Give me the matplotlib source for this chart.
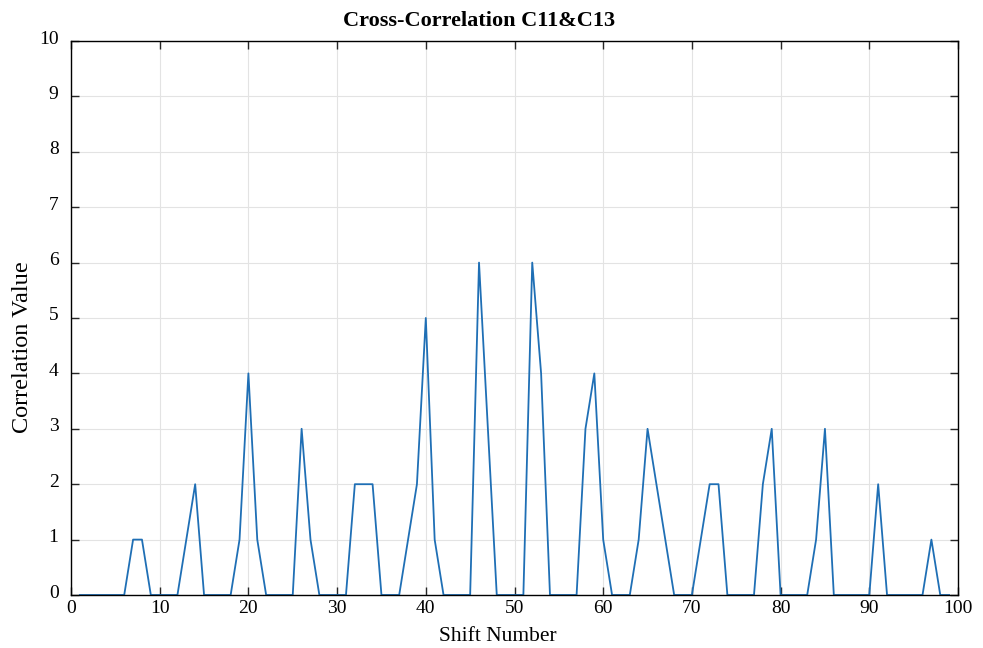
import numpy as np
import matplotlib
matplotlib.use("Agg")
import matplotlib.pyplot as plt
import matplotlib.transforms as mtransforms

plt.rcParams['font.family'] = ['Liberation Serif', 'DejaVu Serif']

# shift numbers 1..99 and correlation values
shift = list(range(1, 100))
corr = [0, 0, 0, 0, 0, 0, 1, 1, 0, 0,      # 1-10
        0, 0, 1, 2, 0, 0, 0, 0, 1, 4,      # 11-20
        1, 0, 0, 0, 0, 3, 1, 0, 0, 0,      # 21-30
        0, 2, 2, 2, 0, 0, 0, 1, 2, 5,      # 31-40
        1, 0, 0, 0, 0, 6, 3, 0, 0, 0,      # 41-50
        0, 6, 4, 0, 0, 0, 0, 3, 4, 1,      # 51-60
        0, 0, 0, 1, 3, 2, 1, 0, 0, 0,      # 61-70
        1, 2, 2, 0, 0, 0, 0, 2, 3, 0,      # 71-80
        0, 0, 0, 1, 3, 0, 0, 0, 0, 0,      # 81-90
        2, 0, 0, 0, 0, 0, 1, 0, 0]         # 91-99

fig = plt.figure(figsize=(9.83, 6.48), dpi=100)
fig.subplots_adjust(left=71/983, right=958/983, top=1-41/648, bottom=1-595/648)
ax = fig.add_subplot(111)

ax.plot(shift, corr, color="#1f6fb5", linewidth=1.3)

ax.set_xlim(0, 100)
ax.set_ylim(0, 10)
ax.set_xticks(np.arange(0, 101, 10))
ax.set_yticks(np.arange(0, 11, 1))
ax.grid(True, color="#e3e3e3", linewidth=0.8)
ax.set_axisbelow(True)
ax.tick_params(direction="in", top=True, right=True, length=6, width=1,
               labelsize=14, colors="#262626", labelcolor="black")
ax.tick_params(axis="y", pad=9)
# y labels sit a little above their ticks
shift_up = mtransforms.ScaledTranslation(0, 4/100, fig.dpi_scale_trans)
for lbl in ax.get_yticklabels():
    lbl.set_transform(lbl.get_transform() + shift_up)
for s in ax.spines.values():
    s.set_linewidth(1.0)
    s.set_color("black")

ax.set_xlabel("Shift Number", fontsize=15.5, labelpad=7)
ax.xaxis.label.set_x(0.481)
ax.set_ylabel("Correlation Value", fontsize=17.5, labelpad=4)
ax.yaxis.label.set_y(0.448)
ax.set_title("Cross-Correlation C11&C13", fontsize=16, fontweight="bold", pad=11)
ax.title.set_x(0.46)

fig.savefig("out.png", dpi=100)
